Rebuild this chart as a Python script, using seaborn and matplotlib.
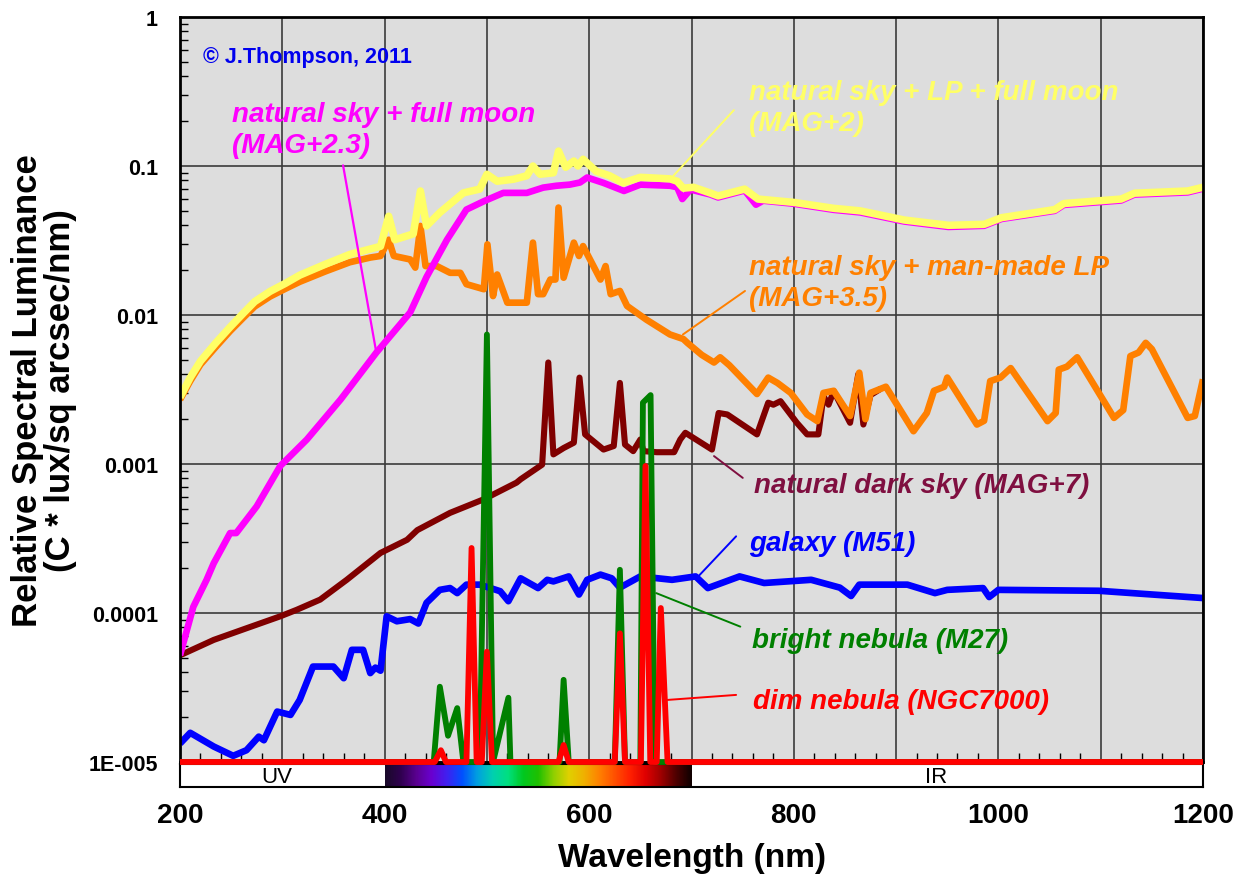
import numpy as np
import matplotlib
matplotlib.use("Agg")
import matplotlib.pyplot as plt
from matplotlib.colors import LinearSegmentedColormap
from matplotlib.ticker import MultipleLocator, LogLocator, NullFormatter
import seaborn as sns

plt.rcParams['font.family'] = ['Liberation Sans', 'DejaVu Sans']

# --- data (wavelength in nm, relative spectral luminance) ---
LP_MOON_NM = [200, 210, 220, 235, 249, 262, 273, 288, 303, 317,
              342, 366, 396, 404, 410, 428, 435, 441, 454, 477,
              493, 500, 510, 526, 539, 545, 552, 565, 570, 577,
              585, 589, 594, 607, 620, 633, 650, 679, 686, 692,
              702, 718, 726, 752, 765, 800, 839, 865, 908, 951,
              986, 1003, 1055, 1064, 1120, 1133, 1185, 1200]
LP_MOON_VAL = [0.0028, 0.0038, 0.0049, 0.0065, 0.0083, 0.0103, 0.0123, 0.0144, 0.0163, 0.0185,
               0.0219, 0.0255, 0.0289, 0.046, 0.032, 0.035, 0.068, 0.0396, 0.0487, 0.066,
               0.070, 0.088, 0.079, 0.0815, 0.086, 0.100, 0.088, 0.090, 0.126, 0.098,
               0.108, 0.100, 0.111, 0.092, 0.086, 0.077, 0.084, 0.082, 0.079, 0.071,
               0.072, 0.066, 0.063, 0.070, 0.060, 0.057, 0.052, 0.050, 0.0434, 0.040,
               0.0406, 0.045, 0.051, 0.056, 0.060, 0.0657, 0.068, 0.072]

MOON_NM = [200, 213, 226, 233, 249, 255, 275, 298, 324, 357,
           392, 425, 441, 461, 480, 497, 516, 539, 555, 568,
           581, 591, 598, 614, 634, 650, 679, 686, 691, 699,
           718, 726, 752, 763, 770, 800, 839, 865, 908, 951,
           986, 1003, 1055, 1064, 1120, 1133, 1185, 1200]
MOON_VAL = [5.2e-5, 1.1e-4, 1.67e-4, 2.16e-4, 3.44e-4, 3.44e-4, 5.2e-4, 9.7e-4, 1.46e-3, 2.71e-3,
            5.6e-3, 0.0104, 0.018, 0.032, 0.051, 0.058, 0.066, 0.066, 0.0716, 0.0737,
            0.075, 0.0775, 0.0837, 0.077, 0.068, 0.075, 0.0737, 0.072, 0.060, 0.0695,
            0.0645, 0.0615, 0.0685, 0.055, 0.0585, 0.0558, 0.0508, 0.0488, 0.0424, 0.039,
            0.0397, 0.0441, 0.050, 0.0548, 0.0587, 0.0643, 0.0665, 0.0705]

LP_NM = [200, 210, 220, 235, 249, 262, 273, 288, 303, 317,
         342, 366, 386, 396, 404, 409, 425, 430, 435, 440,
         451, 464, 474, 480, 497, 500.5, 506, 510, 520, 539,
         545, 550, 555, 562, 567, 570, 575, 585, 590, 594,
         611, 616, 621, 630, 637, 656, 679, 692, 696, 710,
         722, 728, 737, 764, 775, 784, 797, 813, 823, 829,
         839, 855, 864, 870, 875, 890, 917, 930, 937, 947,
         950, 979, 986, 992, 1002, 1012, 1048, 1056, 1059, 1067,
         1077, 1113, 1122, 1129, 1137, 1144, 1150, 1185, 1192, 1200]
LP_VAL = [0.0027, 0.0036, 0.00465, 0.0061, 0.0078, 0.0096, 0.0114, 0.0133, 0.0150, 0.0167,
          0.0196, 0.0226, 0.0243, 0.0249, 0.032, 0.0249, 0.0236, 0.0208, 0.0396, 0.0213,
          0.0213, 0.0192, 0.0192, 0.0161, 0.0149, 0.0298, 0.0134, 0.0187, 0.0121, 0.0121,
          0.0306, 0.0138, 0.0138, 0.0173, 0.0173, 0.0526, 0.0178, 0.0306, 0.0249, 0.029,
          0.0173, 0.0213, 0.0138, 0.0145, 0.0115, 0.0093, 0.0074, 0.0069, 0.0065, 0.0054,
          0.0048, 0.0052, 0.0046, 0.00295, 0.0038, 0.0035, 0.0030, 0.00215, 0.00194, 0.0030,
          0.0031, 0.0021, 0.0041, 0.0020, 0.0030, 0.0033, 0.00166, 0.0022, 0.0031, 0.0033,
          0.0038, 0.00184, 0.00195, 0.0036, 0.0038, 0.0044, 0.00194, 0.0022, 0.0043, 0.0045,
          0.0052, 0.00204, 0.0023, 0.0053, 0.0056, 0.0065, 0.0059, 0.00204, 0.0021, 0.0037]

DARK_NM = [200, 233, 265, 298, 314, 337, 363, 396, 422, 432,
           464, 497, 529, 533, 554, 560, 565, 575, 585, 590.5,
           596, 614, 624, 630, 635, 643, 650, 653, 666, 683,
           689, 694, 720, 726.5, 735, 764, 775, 780, 787, 803,
           813, 824, 829, 834, 839, 855, 863, 868, 875, 885]
DARK_VAL = [5.2e-5, 6.6e-5, 7.9e-5, 9.5e-5, 1.05e-4, 1.23e-4, 1.67e-4, 2.53e-4, 3.1e-4, 3.6e-4,
            4.7e-4, 5.8e-4, 7.5e-4, 7.9e-4, 9.9e-4, 4.8e-3, 1.16e-3, 1.28e-3, 1.39e-3, 3.8e-3,
            1.58e-3, 1.25e-3, 1.32e-3, 3.5e-3, 1.35e-3, 1.22e-3, 1.46e-3, 1.22e-3, 1.2e-3, 1.2e-3,
            1.46e-3, 1.62e-3, 1.25e-3, 2.2e-3, 2.15e-3, 1.58e-3, 2.58e-3, 2.5e-3, 2.64e-3, 1.89e-3,
            1.58e-3, 1.58e-3, 2.85e-3, 2.5e-3, 3.08e-3, 1.89e-3, 4.0e-3, 1.84e-3, 2.9e-3, 3.2e-3]

GALAXY_NM = [200, 210, 233, 252, 265, 277, 282, 295, 308, 317,
             330, 350, 360, 368, 379, 386, 391, 396, 402, 412,
             425, 433, 441, 454, 464, 471, 480, 493, 513, 521,
             533, 550, 559, 565, 580, 590, 598, 611, 622, 630,
             650, 681, 704, 716, 747, 771, 817, 845, 856, 864,
             911, 938, 950, 985, 991, 1000, 1098, 1200]
GALAXY_VAL = [1.33e-5, 1.57e-5, 1.27e-5, 1.1e-5, 1.2e-5, 1.48e-5, 1.4e-5, 2.18e-5, 2.07e-5, 2.61e-5,
              4.37e-5, 4.37e-5, 3.65e-5, 5.66e-5, 5.66e-5, 3.95e-5, 4.3e-5, 4.1e-5, 9.5e-5, 8.8e-5,
              9.1e-5, 8.5e-5, 1.17e-4, 1.43e-4, 1.47e-4, 1.36e-4, 1.55e-4, 1.55e-4, 1.4e-4, 1.2e-4,
              1.71e-4, 1.47e-4, 1.67e-4, 1.63e-4, 1.76e-4, 1.33e-4, 1.67e-4, 1.81e-4, 1.71e-4, 1.48e-4,
              1.76e-4, 1.67e-4, 1.76e-4, 1.47e-4, 1.76e-4, 1.59e-4, 1.67e-4, 1.48e-4, 1.3e-4, 1.55e-4,
              1.55e-4, 1.36e-4, 1.43e-4, 1.47e-4, 1.28e-4, 1.43e-4, 1.41e-4, 1.26e-4]

BRIGHT_NM = [200, 448, 454, 462, 471, 477, 493, 500, 506, 521, 523,
             571, 575, 580, 625, 630, 635, 650, 652.5, 660, 664, 1200]
BRIGHT_VAL = [1e-5, 1e-5, 3.2e-5, 1.5e-5, 2.3e-5, 1e-5, 1e-5, 7.4e-3, 1e-5, 2.7e-5, 1e-5,
              1e-5, 3.56e-5, 1e-5, 1e-5, 1.95e-4, 1e-5, 1e-5, 2.58e-3, 2.9e-3, 1e-5, 1e-5]

DIM_NM = [200, 449, 455, 460, 480, 485, 490, 495, 500, 505, 570, 575, 580,
          625, 630, 635, 650.5, 655, 659.7, 666, 670, 676.6, 1200]
DIM_VAL = [1e-5, 1e-5, 1.2e-5, 1e-5, 1e-5, 2.73e-4, 1e-5, 1e-5, 5.5e-5, 1e-5, 1e-5, 1.3e-5, 1e-5,
           1e-5, 7.3e-5, 1e-5, 1e-5, 9.7e-4, 1e-5, 1e-5, 1.08e-4, 1e-5, 1e-5]

Y_TICKS = [1e-5, 1e-4, 1e-3, 1e-2, 1e-1, 1]
Y_TICK_LABELS = ['1E-005', '0.0001', '0.001', '0.01', '0.1', '1']
X_TICKS = list(range(200, 1201, 100))
X_TICK_LABELS = ['200', '', '400', '', '600', '', '800', '', '1000', '', '1200']

# visible spectrum strip (400-700 nm)
SPECTRUM_COLORS = ['#1a0a2a', '#300050', '#5a0090', '#6a00d0', '#4020f0', '#0050ff',
                   '#00a0e0', '#00d0b0', '#00e080', '#00c820', '#20c000', '#90d000',
                   '#e0d000', '#f0b000', '#ff8000', '#ff5000', '#ff2000', '#e00000',
                   '#a00000', '#500000', '#100000']


def main():
    fig = plt.figure(figsize=(12.45, 8.78), dpi=100)
    W, H = 1245, 878
    bar_ax = fig.add_axes([180 / W, 1 - 788 / H, 1023 / W, 23 / H])
    ax = fig.add_axes([180 / W, 1 - 763 / H, 1023 / W, 745 / H])

    ax.set_facecolor('#dddddd')
    ax.set_yscale('log')

    series = [
        (DARK_NM, DARK_VAL, '#800000', 4.4, 2.1, True),
        (LP_NM, LP_VAL, '#ff8000', 4.8, 2.2, True),
        (MOON_NM, MOON_VAL, '#ff00ff', 4.8, 2.3, True),
        (LP_MOON_NM, LP_MOON_VAL, '#ffff66', 5.4, 2.4, True),
        (GALAXY_NM, GALAXY_VAL, '#0000ff', 4.8, 2.5, True),
        (BRIGHT_NM, BRIGHT_VAL, '#008000', 4.2, 2.6, False),
        (DIM_NM, DIM_VAL, '#ff0000', 4.2, 2.7, False),
    ]
    for nm, val, color, lw, z, clip in series:
        sns.lineplot(x=nm, y=val, ax=ax, color=color, linewidth=lw, sort=False,
                     estimator=None, zorder=z, clip_on=clip, solid_capstyle='butt')

    ax.set_xlim(200, 1200)
    ax.set_ylim(1e-5, 1)
    ax.set_xlabel('')

    # grid and ticks
    ax.set_axisbelow(True)
    ax.set_xticks(X_TICKS)
    ax.xaxis.set_minor_locator(MultipleLocator(20))
    ax.tick_params(axis='x', which='major', length=0, labelbottom=False)
    ax.tick_params(axis='x', which='minor', direction='in', length=6.5, width=1, color='black')
    ax.set_yticks(Y_TICKS)
    ax.set_yticklabels(Y_TICK_LABELS)
    ax.yaxis.set_minor_locator(LogLocator(base=10, subs=np.arange(2, 10)))
    ax.yaxis.set_minor_formatter(NullFormatter())
    ax.tick_params(axis='y', which='major', length=0, pad=16, labelsize=15.5)
    ax.tick_params(axis='y', which='minor', direction='in', length=6, width=1, color='black')
    for lbl in ax.get_yticklabels():
        lbl.set_fontweight('bold')
    ax.grid(True, which='major', color='#3a3a3a', linewidth=1.2)
    for sp in ax.spines.values():
        sp.set_color('black')
        sp.set_linewidth(2)

    ax.set_ylabel('Relative Spectral Luminance\n(C * lux/sq arcsec/nm)',
                  fontsize=25, fontweight='bold', linespacing=1.0)
    ax.yaxis.set_label_coords(-0.1005, 0.5)

    # copyright
    ax.text(222.5, 0.64, '\u00a9 J.Thompson, 2011', color='#0000ee', fontsize=15.5,
            fontweight='bold', va='top', ha='left')

    # labels with leader lines
    labels = [
        ('natural sky + full moon\n(MAG+2.3)', '#ff00ff', (251, 0.272), (359.4, 0.101), (391.7, 5.7e-3), 1.6),
        ('natural sky + LP + full moon\n(MAG+2)', '#ffff66', (756.5, 0.383), (741.4, 0.237), (682.2, 0.0858), 1.4),
        ('natural sky + man-made LP\n(MAG+3.5)', '#ff8000', (756.5, 0.0256), (752.3, 0.0145), (691.6, 7.4e-3), 1.4),
        ('natural dark sky (MAG+7)', '#7f0f40', (761.4, 8.9e-4), (722, 1.13e-3), (750.1, 8.07e-4), 1.4),
        ('galaxy (M51)', '#0000ff', (756.5, 3.63e-4), (706.6, 1.76e-4), (743.6, 3.27e-4), 1.4),
        ('bright nebula (M27)', '#008000', (759.4, 8.1e-5), (665.5, 1.36e-4), (747.7, 8.1e-5), 1.4),
        ('dim nebula (NGC7000)', '#ff0000', (760.4, 3.15e-5), (676.6, 2.61e-5), (743.6, 2.82e-5), 1.4),
    ]
    for text, color, pos, start, end, lw in labels:
        ax.annotate('', xy=end, xytext=start,
                    arrowprops=dict(arrowstyle='-', color=color, lw=lw, shrinkA=0, shrinkB=0),
                    zorder=3)
        ax.text(pos[0], pos[1], text, color=color, fontsize=20, fontweight='bold',
                fontstyle='italic', va='top', ha='left', linespacing=1.22, zorder=4)

    # UV / visible / IR strip
    cmap = LinearSegmentedColormap.from_list('spectrum', SPECTRUM_COLORS)
    bar_ax.set_facecolor('white')
    bar_ax.imshow(np.linspace(0, 1, 600)[None, :], extent=(400, 700, 0, 1),
                  aspect='auto', cmap=cmap, zorder=1)
    bar_ax.set_xlim(200, 1200)
    bar_ax.set_ylim(0, 1)
    bar_ax.set_yticks([])
    bar_ax.set_xticks(X_TICKS)
    bar_ax.set_xticklabels(X_TICK_LABELS)
    bar_ax.tick_params(axis='x', length=0, pad=11, labelsize=20)
    for lbl in bar_ax.get_xticklabels():
        lbl.set_fontweight('bold')
    for sp in bar_ax.spines.values():
        sp.set_color('black')
        sp.set_linewidth(1.5)
    bar_ax.text(295, 0.45, 'UV', fontsize=16, ha='center', va='center', color='black')
    bar_ax.text(939, 0.45, 'IR', fontsize=16, ha='center', va='center', color='black')
    bar_ax.set_xlabel('Wavelength (nm)', fontsize=24, fontweight='bold', labelpad=10)

    fig.savefig('out.png', dpi=100, facecolor='white')
    plt.close(fig)


if __name__ == '__main__':
    main()
